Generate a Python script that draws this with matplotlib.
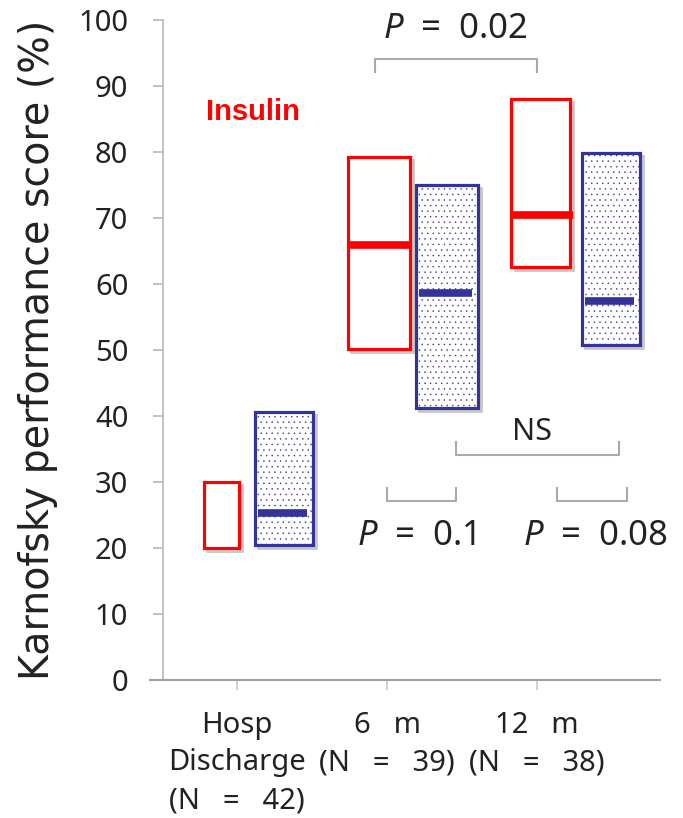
import numpy as np
import matplotlib.pyplot as plt
from matplotlib.patches import Rectangle

plt.rcParams['font.family'] = ['Noto Sans', 'DejaVu Sans']
plt.rcParams['mathtext.fontset'] = 'custom'
plt.rcParams['mathtext.rm'] = 'Noto Sans'
plt.rcParams['mathtext.it'] = 'Noto Sans:italic'
plt.rcParams['hatch.linewidth'] = 0.3

# --- data ---
categories = ['Hosp\nDischarge\n(N   =   42)', '6   m\n(N   =   39)', '12   m\n(N   =   38)']
ins_low = [20.0, 50.2, 62.6]
ins_high = [30.0, 79.2, 88.0]
ins_median = [np.nan, 65.9, 70.5]
ctl_low = [20.4, 41.2, 50.8]
ctl_high = [40.6, 75.0, 79.8]
ctl_median = [25.3, 58.6, 57.4]

# --- layout (box left edge / width relative to category tick, in category units) ---
ins_left = [-0.22, -0.26, -0.17]
ins_width = [0.23, 0.41, 0.39]
ctl_left = [0.12, 0.195, 0.30]
ctl_width = [0.385, 0.41, 0.39]

RED = '#ff0000'
NAVY = '#333399'
GRAY = '#aaaaaa'
TXT = '#222222'

fig = plt.figure(figsize=(6.83, 8.18), dpi=100)
ax = fig.add_axes([150 / 683, 138 / 818, 510 / 683, 660 / 818])
ax.set_xlim(-0.58, 2.82)
ax.set_ylim(0, 100)

px = 1 / 150  # one pixel in x data units
py = 100 / 660  # one pixel in y data units

for i in range(3):
    # insulin box
    x0, w = i + ins_left[i], ins_width[i]
    ax.add_patch(Rectangle((x0 + 3 * px, ins_low[i] - 3 * py), w, ins_high[i] - ins_low[i],
                           fill=False, edgecolor='#c8c8c8', lw=2, zorder=1))
    ax.add_patch(Rectangle((x0, ins_low[i]), w, ins_high[i] - ins_low[i],
                           facecolor='white', edgecolor=RED, lw=2.3, zorder=2))
    if not np.isnan(ins_median[i]):
        ax.plot([x0 - 1 * px, x0 + w + 3 * px], [ins_median[i]] * 2, color=RED,
                lw=5.5, solid_capstyle='butt', zorder=3)
    # control box
    x0, w = i + ctl_left[i], ctl_width[i]
    ax.add_patch(Rectangle((x0 + 3 * px, ctl_low[i] - 3 * py), w, ctl_high[i] - ctl_low[i],
                           fill=False, edgecolor='#c8c8c8', lw=2, zorder=1))
    ax.add_patch(Rectangle((x0, ctl_low[i]), w, ctl_high[i] - ctl_low[i],
                           facecolor='white', edgecolor=NAVY, hatch='...', lw=2.3, zorder=2))
    ax.plot([x0 + 3 * px, x0 + w - 6 * px], [ctl_median[i]] * 2, color=NAVY,
            lw=5.5, solid_capstyle='butt', zorder=3)


def bracket(xa, xb, y, tip, ax=ax):
    ax.plot([xa, xa, xb, xb], [y + tip, y, y, y + tip], color=GRAY, lw=1.5,
            clip_on=False, zorder=1)


# significance brackets
bracket((375 - 237) / 150, 1 + (538 - 388) / 150, 94.1, -2.0)
bracket(1 + (457 - 388) / 150, 2 + (620 - 538) / 150, 34.1, 2.0)
bracket(1 + (388 - 388) / 150, 1 + (457 - 388) / 150, 27.1, 2.0)
bracket(2 + (558 - 538) / 150, 2 + (628 - 538) / 150, 27.1, 2.0)

ax.text((455 - 237) / 150, 98.6, r'$P$  =  0.02', ha='center', va='center',
        fontsize=25, color=TXT, clip_on=False)
ax.text(2 + (533 - 538) / 150, 37.6, 'NS', ha='center', va='center',
        fontsize=22, color=TXT)
ax.text(1 + (418 - 388) / 150, 21.8, r'$P$  =  0.1', ha='center', va='center',
        fontsize=25, color=TXT)
ax.text(2 + (596 - 538) / 150, 21.8, r'$P$  =  0.08', ha='center', va='center',
        fontsize=25, color=TXT)
ax.text((253 - 237) / 150, 86.0, 'Insulin', ha='center', va='center',
        fontsize=21, fontweight='bold', color=RED, family='Liberation Sans')

# axes styling
for s in ['top', 'right']:
    ax.spines[s].set_visible(False)
ax.spines['left'].set_position(('data', (163 - 237) / 150))
ax.spines['left'].set_color('#b8b8b8')
ax.spines['bottom'].set_color('#a0a0a0')
ax.spines['left'].set_linewidth(1.2)
ax.spines['bottom'].set_linewidth(1.5)

ax.set_yticks(np.arange(0, 101, 10))
ax.tick_params(axis='y', direction='out', length=7, width=1.2, color='#b8b8b8',
               labelsize=21, labelcolor=TXT, pad=18)
ax.set_xticks(range(3))
ax.set_xticklabels(categories, linespacing=1.4)
ax.tick_params(axis='x', direction='out', length=7, width=1.2, color='#c8c8c8',
               labelsize=21, labelcolor=TXT, pad=15)

ax.set_ylabel('Karnofsky performance score (%)', fontsize=28.5, color=TXT,
              family='DejaVu Sans')
ax.yaxis.set_label_coords(-0.18, 0.5)

fig.savefig('out.png', dpi=100)
